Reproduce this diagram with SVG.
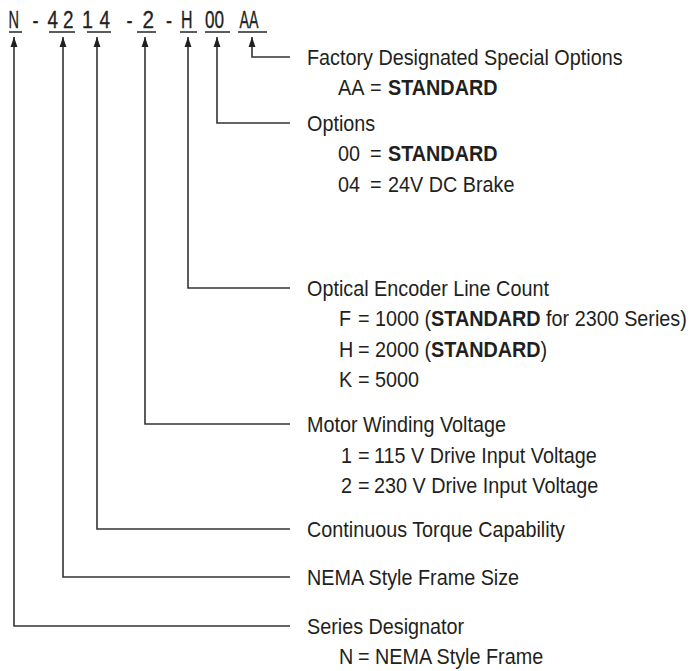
<svg xmlns="http://www.w3.org/2000/svg" width="698" height="671" viewBox="0 0 698 671">
<style>
text{font-family:"Liberation Sans",Arial,sans-serif;font-size:22px;fill:#231f20}
.code{font-size:23.5px;stroke:#231f20;stroke-width:0.35}
.b{font-weight:bold}
.ln{fill:none;stroke:#333;stroke-width:1.6}
.ul{stroke:#333;stroke-width:1.6}
</style>
<defs>
<marker id="ah" viewBox="0 0 10 10" refX="10" refY="5" markerWidth="6.5" markerHeight="4.5" markerUnits="strokeWidth" orient="auto" preserveAspectRatio="none">
<path d="M0,0 L10,5 L0,10 Z" fill="#231f20"/>
</marker>
</defs>
<rect width="698" height="671" fill="#fff"/>
<g id="code">
<text class="code" x="8.5" y="27.5" textLength="10.5" lengthAdjust="spacingAndGlyphs">N</text>
<text class="code" x="32.5" y="27.5" textLength="6" lengthAdjust="spacingAndGlyphs">-</text>
<text class="code" x="47.5" y="27.5" textLength="10.5" lengthAdjust="spacingAndGlyphs">4</text>
<text class="code" x="63" y="27.5" textLength="10.5" lengthAdjust="spacingAndGlyphs">2</text>
<text class="code" x="82" y="27.5" textLength="11" lengthAdjust="spacingAndGlyphs">1</text>
<text class="code" x="99.5" y="27.5" textLength="10.5" lengthAdjust="spacingAndGlyphs">4</text>
<text class="code" x="126.5" y="27.5" textLength="6" lengthAdjust="spacingAndGlyphs">-</text>
<text class="code" x="142.5" y="27.5" textLength="11.5" lengthAdjust="spacingAndGlyphs">2</text>
<text class="code" x="166" y="27.5" textLength="6" lengthAdjust="spacingAndGlyphs">-</text>
<text class="code" x="181" y="27.5" textLength="11.5" lengthAdjust="spacingAndGlyphs">H</text>
<text class="code" x="205" y="27.5" textLength="19" lengthAdjust="spacingAndGlyphs">00</text>
<text class="code" x="239.5" y="27.5" textLength="19" lengthAdjust="spacingAndGlyphs">AA</text>
<line class="ul" x1="9" y1="32" x2="22" y2="32"/>
<line class="ul" x1="49" y1="32" x2="75" y2="32"/>
<line class="ul" x1="87" y1="32" x2="111" y2="32"/>
<line class="ul" x1="137" y1="32" x2="156" y2="32"/>
<line class="ul" x1="180" y1="32" x2="197" y2="32"/>
<line class="ul" x1="205" y1="32" x2="230" y2="32"/>
<line class="ul" x1="238" y1="32" x2="267" y2="32"/>
</g>
<g id="connectors">
<path class="ln" d="M290,57 H252 V37" marker-end="url(#ah)"/>
<path class="ln" d="M290,123 H217 V37" marker-end="url(#ah)"/>
<path class="ln" d="M290,288 H188 V37" marker-end="url(#ah)"/>
<path class="ln" d="M290,424 H145 V37" marker-end="url(#ah)"/>
<path class="ln" d="M290,529 H97 V37" marker-end="url(#ah)"/>
<path class="ln" d="M290,577 H63 V37" marker-end="url(#ah)"/>
<path class="ln" d="M290,626 H14 V37" marker-end="url(#ah)"/>
</g>
<g transform="scale(0.9,1)">
<g id="factory">
<text x="341.11" y="65">Factory Designated Special Options</text>
<text y="95.5"><tspan x="375.56">AA</tspan><tspan x="411.11">=</tspan><tspan x="431.11" class="b">STANDARD</tspan></text>
</g>
<g id="options">
<text x="341.11" y="131">Options</text>
<text y="161.5"><tspan x="375.56">00</tspan><tspan x="411.11">=</tspan><tspan x="431.11" class="b">STANDARD</tspan></text>
<text y="192.5"><tspan x="375.56">04</tspan><tspan x="411.11">=</tspan><tspan x="431.11">24V DC Brake</tspan></text>
</g>
<g id="encoder">
<text x="341.11" y="296">Optical Encoder Line Count</text>
<text y="326"><tspan x="376.67">F</tspan><tspan x="397.78">=</tspan><tspan x="416.67">1000 (</tspan><tspan class="b">STANDARD</tspan><tspan> for 2300 Series)</tspan></text>
<text y="357"><tspan x="376.67">H</tspan><tspan x="397.78">=</tspan><tspan x="416.67">2000 (</tspan><tspan class="b">STANDARD</tspan><tspan>)</tspan></text>
<text y="387"><tspan x="376.67">K</tspan><tspan x="397.78">=</tspan><tspan x="416.67">5000</tspan></text>
</g>
<g id="winding">
<text x="341.11" y="432">Motor Winding Voltage</text>
<text y="463"><tspan x="378.89">1</tspan><tspan x="397.78">=</tspan><tspan x="415.56">115 V Drive Input Voltage</tspan></text>
<text y="493"><tspan x="378.89">2</tspan><tspan x="397.78">=</tspan><tspan x="415.56">230 V Drive Input Voltage</tspan></text>
</g>
<g id="torque">
<text x="341.11" y="537">Continuous Torque Capability</text>
</g>
<g id="frame">
<text x="341.11" y="585">NEMA Style Frame Size</text>
</g>
<g id="series">
<text x="341.11" y="634">Series Designator</text>
<text y="664"><tspan x="376.67">N</tspan><tspan x="397.78">=</tspan><tspan x="416.67">NEMA Style Frame</tspan></text>
</g>
</g>
</svg>
